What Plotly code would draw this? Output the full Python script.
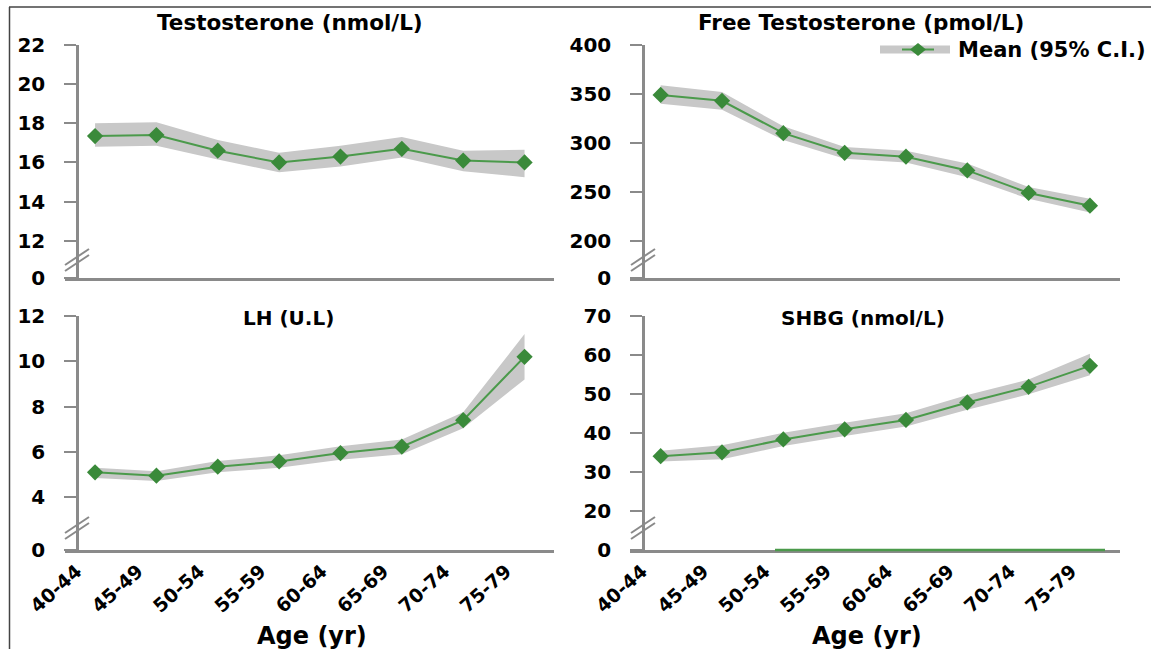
import plotly.graph_objects as go

# ---------------- data ----------------
ages = ["40-44", "45-49", "50-54", "55-59", "60-64", "65-69", "70-74", "75-79"]

testo_mean = [17.35, 17.4, 16.6, 16.0, 16.3, 16.7, 16.1, 16.0]
testo_lo = [16.8, 16.85, 16.15, 15.5, 15.8, 16.25, 15.55, 15.25]
testo_hi = [18.0, 18.05, 17.15, 16.5, 16.85, 17.3, 16.6, 16.65]

ft_mean = [349, 343, 310, 290, 286, 272, 249, 236]
ft_lo = [340, 334, 303, 284, 280, 265, 243, 229]
ft_hi = [359, 352, 317, 296, 292, 279, 255, 243]

lh_mean = [5.1, 4.95, 5.35, 5.58, 5.95, 6.23, 7.4, 10.2]
lh_lo = [4.85, 4.72, 5.1, 5.3, 5.65, 5.9, 7.05, 9.2]
lh_hi = [5.3, 5.15, 5.6, 5.85, 6.25, 6.55, 7.75, 11.2]

shbg_mean = [34.0, 35.0, 38.3, 40.9, 43.3, 47.8, 51.8, 57.2]
shbg_lo = [32.6, 33.2, 36.6, 39.2, 41.6, 45.9, 49.9, 54.8]
shbg_hi = [35.4, 36.8, 40.0, 42.6, 45.0, 49.7, 53.7, 60.3]

testo_ticks = [12, 14, 16, 18, 20, 22]
ft_ticks = [200, 250, 300, 350, 400]
lh_ticks = [4, 6, 8, 10, 12]
shbg_ticks = [20, 30, 40, 50, 60, 70]

titles = ["Testosterone (nmol/L)", "Free Testosterone (pmol/L)", "LH (U.L)", "SHBG (nmol/L)"]
legend_label = "Mean (95% C.I.)"
x_title = "Age (yr)"

# ---------------- styling / layout helpers ----------------
W, H = 1151, 649
FONT = "DejaVu Sans"
GREEN_M = "#3a8a3a"
GREEN_L = "#4b9a4b"
BAND = "#c8c8c8"
AXIS = "#8a8a8a"


def px(x):
    return x / W


def py(y):
    return 1 - y / H


xs = list(range(len(ages)))

fig = go.Figure()

panels = [
    dict(mean=testo_mean, lo=testo_lo, hi=testo_hi, ticks=testo_ticks, floor=10.1, top=22,
         xa="x", ya="y", xdom=(65, 554), ypos=77, ydom=(278, 45), xr=(-0.49, 7.48), labels=False),
    dict(mean=ft_mean, lo=ft_lo, hi=ft_hi, ticks=ft_ticks, floor=162.2, top=400,
         xa="x2", ya="y2", xdom=(630, 1120), ypos=643, ydom=(278, 45), xr=(-0.5, 7.49), labels=False),
    dict(mean=lh_mean, lo=lh_lo, hi=lh_hi, ticks=lh_ticks, floor=1.67, top=12,
         xa="x3", ya="y3", xdom=(65, 554), ypos=77, ydom=(550, 316), xr=(-0.49, 7.48), labels=True),
    dict(mean=shbg_mean, lo=shbg_lo, hi=shbg_hi, ticks=shbg_ticks, floor=9.9, top=70,
         xa="x4", ya="y4", xdom=(630, 1120), ypos=643, ydom=(550, 316), xr=(-0.5, 7.49), labels=True),
]

layout_axes = {}
for i, p in enumerate(panels):
    # CI band
    fig.add_trace(go.Scatter(
        x=xs + xs[::-1], y=p["hi"] + p["lo"][::-1], fill="toself", fillcolor=BAND,
        line=dict(width=0), mode="lines", hoverinfo="skip", showlegend=False,
        xaxis=p["xa"], yaxis=p["ya"]))
    # mean line
    fig.add_trace(go.Scatter(
        x=xs, y=p["mean"], mode="lines+markers",
        line=dict(color=GREEN_L, width=2),
        marker=dict(symbol="diamond", size=12.5, color=GREEN_M),
        showlegend=False, xaxis=p["xa"], yaxis=p["ya"]))

    suffix = "" if i == 0 else str(i + 1)
    layout_axes["xaxis" + suffix] = dict(
        domain=[px(p["xdom"][0]), px(p["xdom"][1])], anchor="y" + suffix,
        range=list(p["xr"]), showline=True, linecolor=AXIS, linewidth=2.5,
        showgrid=False, zeroline=False, automargin=False,
        ticks="", tickvals=[v - 0.3 for v in xs], ticktext=ages,
        showticklabels=p["labels"], tickangle=-42,
        tickfont=dict(family=FONT, size=19, color="black", weight="bold"),
    )
    layout_axes["yaxis" + suffix] = dict(
        domain=[py(p["ydom"][0]), py(p["ydom"][1])], anchor="free", position=px(p["ypos"]),
        range=[p["floor"], p["top"]], showline=True, linecolor=AXIS, linewidth=2.5,
        showgrid=False, zeroline=False, automargin=False,
        tickvals=[p["floor"]] + p["ticks"], ticktext=["0"] + [str(t) for t in p["ticks"]],
        ticks="outside", ticklen=12, tickwidth=2, tickcolor=AXIS, ticklabelstandoff=15,
        tickfont=dict(family=FONT, size=20, color="black", weight="bold"),
    )

shapes = []
# axis break markers "//"
for (cx, cy) in [(77, 260), (643, 260), (77, 528), (643, 528)]:
    for off in (-3, 3):
        shapes.append(dict(type="line", xref="paper", yref="paper",
                           x0=px(cx - 12), y0=py(cy + 8 + off), x1=px(cx + 12), y1=py(cy - 8 + off),
                           line=dict(color=AXIS, width=2)))
# green segment lying on the SHBG baseline
shapes.append(dict(type="line", xref="paper", yref="paper",
                   x0=px(775), y0=py(550), x1=px(1105), y1=py(550),
                   line=dict(color=GREEN_L, width=2.5)))
# outer frame (left and top edges)
shapes.append(dict(type="line", xref="paper", yref="paper", x0=px(9.5), y0=py(7), x1=px(9.5), y1=0,
                   line=dict(color="#444", width=1.5)))
shapes.append(dict(type="line", xref="paper", yref="paper", x0=px(9), y0=py(7), x1=1, y1=py(7),
                   line=dict(color="#444", width=1.5)))
# legend symbol
shapes.append(dict(type="rect", xref="paper", yref="paper", x0=px(880), x1=px(950),
                   y0=py(53.5), y1=py(45.5), fillcolor=BAND, line=dict(width=0)))
shapes.append(dict(type="line", xref="paper", yref="paper", x0=px(902), x1=px(934),
                   y0=py(49.5), y1=py(49.5), line=dict(color=GREEN_L, width=2)))
dcx, dcy = 918, 49.5
shapes.append(dict(type="path", xref="paper", yref="paper",
                   path=f"M {px(dcx-8)},{py(dcy)} L {px(dcx)},{py(dcy-6.5)} L {px(dcx+8)},{py(dcy)} L {px(dcx)},{py(dcy+6.5)} Z",
                   fillcolor=GREEN_M, line=dict(width=0)))

annotations = []
title_pos = [(290, 22, 21.5), (861, 22, 21.5), (289, 318, 20), (863, 318, 20)]
for t, (x, y, s) in zip(titles, title_pos):
    annotations.append(dict(text=t, x=px(x), y=py(y), xref="paper", yref="paper",
                            xanchor="center", yanchor="middle", showarrow=False,
                            font=dict(family=FONT, size=s, color="black", weight="bold")))
for x in (312, 867):
    annotations.append(dict(text=x_title, x=px(x), y=py(636), xref="paper", yref="paper",
                            xanchor="center", yanchor="middle", showarrow=False,
                            font=dict(family=FONT, size=24, color="black", weight="bold")))
annotations.append(dict(text=legend_label, x=px(1148), y=py(50), xref="paper", yref="paper",
                        xanchor="right", yanchor="middle", showarrow=False,
                        font=dict(family=FONT, size=21, color="black", weight="bold")))

fig.update_layout(
    width=W, height=H, margin=dict(l=0, r=0, t=0, b=0, autoexpand=False),
    paper_bgcolor="white", plot_bgcolor="white", showlegend=False,
    shapes=shapes, annotations=annotations, **layout_axes,
)

# remove the page's default body margin so the figure fills the window exactly
fig.write_html(
    "out.html",
    config={"displayModeBar": False},
    post_script="document.body.style.margin='0';document.body.style.overflow='hidden';",
)
